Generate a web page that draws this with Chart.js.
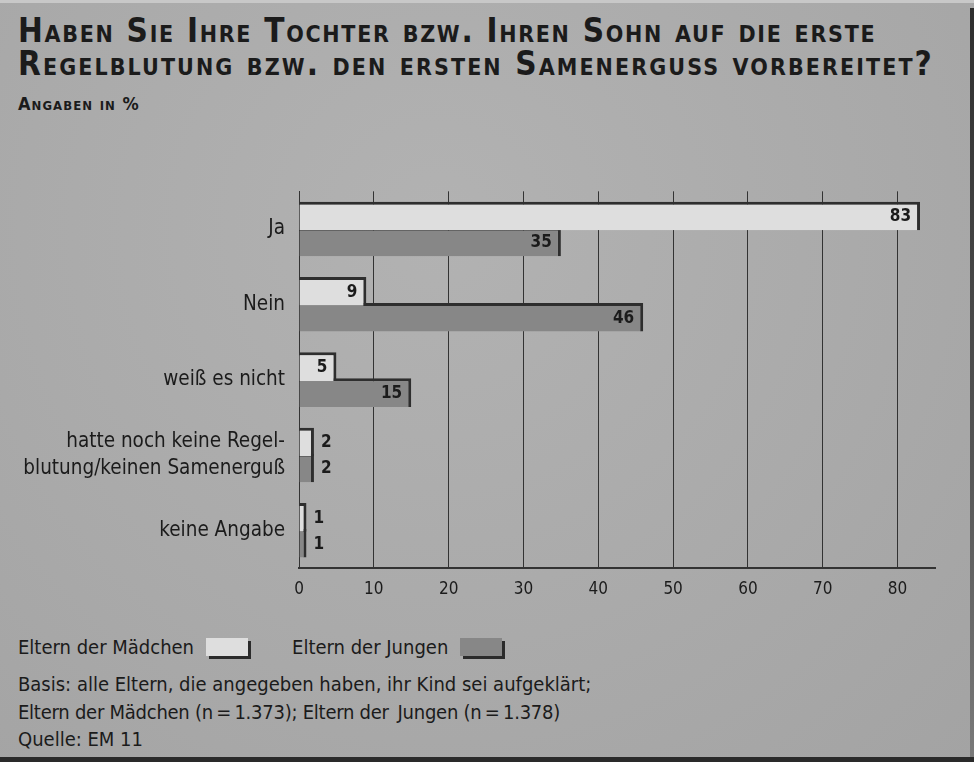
<!DOCTYPE html>
<html><head><meta charset="utf-8">
<script src="https://cdn.jsdelivr.net/npm/chart.js@4.4.1/dist/chart.umd.min.js"></script>
<style>
html,body{margin:0;padding:0;}
body{width:974px;height:762px;overflow:hidden;position:relative;
 background:radial-gradient(ellipse at 45% 30%, #b2b2b2 0%, #aaaaaa 55%, #a3a3a3 100%);
 font-family:"Liberation Sans Narrow","DejaVu Sans Condensed",sans-serif;color:#1b1b1b;}
#frameR{position:absolute;right:0;top:8px;width:4px;height:754px;background:linear-gradient(#2e2e2e,#555 60%,#7a7a7a);}
#frameT{position:absolute;left:0;top:0;width:974px;height:3px;background:#c8c8c8;}
#frameB{position:absolute;left:0;bottom:0;width:974px;height:5px;background:#2a2a2a;}
.title{position:absolute;left:18px;font-weight:bold;font-variant:small-caps;font-size:33px;line-height:35px;white-space:nowrap;}
#t1{top:13px;letter-spacing:1.7px;}
#t2{top:46px;letter-spacing:2.08px;}
#sub{position:absolute;left:18px;top:93px;font-weight:bold;font-variant:small-caps;font-size:18px;letter-spacing:1.05px;}
#chartWrap{position:absolute;left:0;top:164px;width:974px;height:445px;}
.foot{position:absolute;left:18px;font-size:20px;white-space:nowrap;}
.box{display:inline-block;width:42px;height:18px;vertical-align:-2px;margin-left:12px;box-shadow:3px 3px 0 #2b2b2b;}
</style></head>
<body>
<div id="frameT"></div>
<div id="frameR"></div>
<div class="title" id="t1">Haben Sie Ihre Tochter bzw. Ihren Sohn auf die erste</div>
<div class="title" id="t2">Regelblutung bzw. den ersten Samenerguss vorbereitet?</div>
<div id="sub">Angaben in %</div>
<div id="chartWrap"><canvas id="c" width="974" height="445"></canvas></div>
<div class="foot" style="top:635px;">Eltern der Mädchen<span class="box" style="background:#dedede"></span><span style="margin-left:44px">Eltern der Jungen</span><span class="box" style="background:#878787"></span></div>
<div class="foot" style="top:672px;">Basis: alle Eltern, die angegeben haben, ihr Kind sei aufgeklärt;</div>
<div class="foot" style="top:700px;letter-spacing:-0.25px;">Eltern der Mädchen (n&#8201;=&#8201;1.373); Eltern der &#8201;Jungen (n&#8201;=&#8201;1.378)</div>
<div class="foot" style="top:727px;">Quelle: EM 11</div>
<div id="frameB"></div>
<script>
const categories = ['Ja', 'Nein', 'weiß es nicht', ['hatte noch keine Regel-', 'blutung/keinen Samenerguß'], 'keine Angabe'];
const seriesNames = ['Eltern der Mädchen', 'Eltern der Jungen'];
const maedchen = [83, 9, 5, 2, 1];
const jungen = [35, 46, 15, 2, 1];
const xTicks = [0, 10, 20, 30, 40, 50, 60, 70, 80];

const FONT = '"Liberation Sans Narrow","DejaVu Sans Condensed",sans-serif';

const valueLabels = {
  id: 'valueLabels',
  afterDatasetsDraw(chart) {
    const ctx = chart.ctx;
    ctx.save();
    ctx.font = 'bold 17px ' + FONT;
    ctx.fillStyle = '#1b1b1b';
    ctx.textBaseline = 'middle';
    chart.data.datasets.forEach((ds, di) => {
      const meta = chart.getDatasetMeta(di);
      meta.data.forEach((bar, i) => {
        const v = ds.data[i];
        const y = bar.y + 1;
        if (v >= 4) {
          ctx.textAlign = 'right';
          ctx.fillText(String(v), bar.x - 9, y);
        } else {
          ctx.textAlign = 'left';
          ctx.fillText(String(v), bar.x + 7, y);
        }
      });
    });
    ctx.restore();
  }
};

new Chart(document.getElementById('c'), {
  type: 'bar',
  data: {
    labels: categories,
    datasets: [
      { label: seriesNames[0], data: maedchen, backgroundColor: '#dedede', borderColor: '#2e2e2e',
        borderWidth: {top: 3, right: 3, bottom: 0, left: 0}, borderSkipped: false,
        categoryPercentage: 0.69, barPercentage: 1.1 },
      { label: seriesNames[1], data: jungen, backgroundColor: '#878787', borderColor: '#2e2e2e',
        borderWidth: {top: 3, right: 3, bottom: 0, left: 0}, borderSkipped: false,
        categoryPercentage: 0.69, barPercentage: 1.1 }
    ]
  },
  options: {
    indexAxis: 'y',
    responsive: false,
    animation: false,
    devicePixelRatio: 1,
    layout: { padding: { top: 13, right: 39, left: 0, bottom: 0 } },
    plugins: { legend: { display: false }, tooltip: { enabled: false } },
    scales: {
      x: {
        min: 0, max: 85,
        afterBuildTicks: (s) => { s.ticks = xTicks.map(v => ({ value: v })); },
        afterFit: (s) => { s.height = 41; },
        grid: { color: '#333', lineWidth: 1, drawTicks: false },
        border: { display: true, color: '#333', width: 2 },
        ticks: { padding: 11, color: '#1b1b1b', font: { family: FONT, size: 17 } }
      },
      y: {
        afterFit: (s) => { s.width = 299; },
        grid: { display: false, drawTicks: false },
        border: { display: true, color: '#333', width: 1 },
        ticks: { padding: 14, color: '#1b1b1b', font: { family: FONT, size: 20.5, lineHeight: 1.3 } }
      }
    }
  },
  plugins: [valueLabels]
});
</script>
</body></html>
